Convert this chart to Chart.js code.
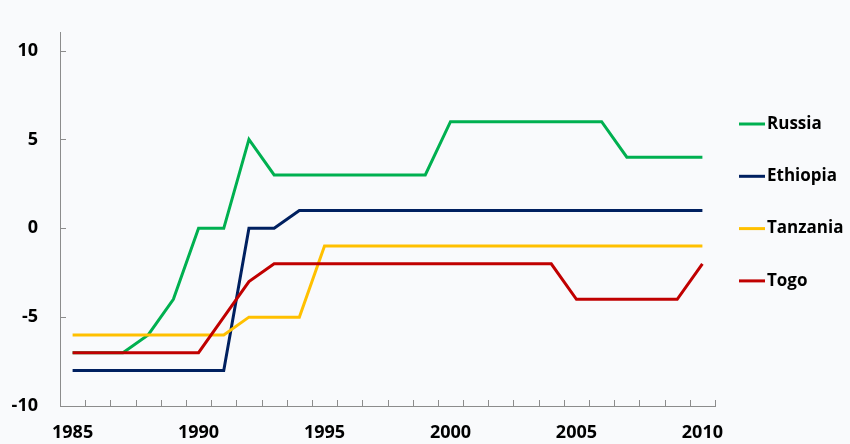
<!DOCTYPE html>
<html>
<head>
<meta charset="utf-8">
<script src="https://cdn.jsdelivr.net/npm/chart.js@4.4.1/dist/chart.umd.min.js"></script>
<style>
  html, body { margin: 0; padding: 0; background: #f9fafc; }
  #wrap { width: 850px; height: 444px; }
</style>
</head>
<body>
<div id="wrap"><canvas id="chart"></canvas></div>
<script>
// ---- Data ----
const years = [
  1985, 1986, 1987, 1988, 1989, 1990, 1991, 1992, 1993, 1994, 1995, 1996, 1997,
  1998, 1999, 2000, 2001, 2002, 2003, 2004, 2005, 2006, 2007, 2008, 2009, 2010,
];
const russia   = [-7, -7, -7, -6, -4, 0, 0, 5, 3, 3, 3, 3, 3, 3, 3, 6, 6, 6, 6, 6, 6, 6, 4, 4, 4, 4];
const ethiopia = [-8, -8, -8, -8, -8, -8, -8, 0, 0, 1, 1, 1, 1, 1, 1, 1, 1, 1, 1, 1, 1, 1, 1, 1, 1, 1];
const tanzania = [-6, -6, -6, -6, -6, -6, -6, -5, -5, -5, -1, -1, -1, -1, -1, -1, -1, -1, -1, -1, -1, -1, -1, -1, -1, -1];
const togo     = [-7, -7, -7, -7, -7, -7, -5, -3, -2, -2, -2, -2, -2, -2, -2, -2, -2, -2, -2, -2, -4, -4, -4, -4, -4, -2];
const seriesNames = ['Russia', 'Ethiopia', 'Tanzania', 'Togo'];
const yTicks = [-10, -5, 0, 5, 10];

// ---- Style ----
const COLORS = ['#00b050', '#002060', '#ffc000', '#c00000'];
const AXIS_COLOR = '#8c8c8c';
const FONT = { family: '"Open Sans", "Liberation Sans", sans-serif', size: 18, weight: 'bold' };

// Small tick marks pointing into the plot, like the source spreadsheet chart
const innerTicks = {
  id: 'innerTicks',
  beforeDatasetsDraw(chart) {
    const { ctx, chartArea: a, scales: { x, y } } = chart;
    const half = (x.getPixelForValue(1) - x.getPixelForValue(0)) / 2;
    ctx.save();
    ctx.strokeStyle = AXIS_COLOR;
    ctx.lineWidth = 1;
    ctx.beginPath();
    for (let i = 0; i < years.length; i++) {
      const px = Math.round(x.getPixelForValue(i) + half) + 0.5;
      ctx.moveTo(px, a.bottom);
      ctx.lineTo(px, a.bottom - 6);
    }
    yTicks.forEach(v => {
      const py = Math.round(y.getPixelForValue(v)) + 0.5;
      ctx.moveTo(a.left, py);
      ctx.lineTo(a.left + 6, py);
    });
    ctx.stroke();
    ctx.restore();
  },
};

// Legend on the right: short line sample + bold name
const sideLegend = {
  id: 'sideLegend',
  afterDraw(chart) {
    const { ctx, chartArea: a } = chart;
    const x0 = a.right + 24;
    ctx.save();
    ctx.font = `${FONT.weight} 17px ${FONT.family}`;
    ctx.textBaseline = 'middle';
    ctx.fillStyle = '#000';
    chart.data.datasets.forEach((ds, i) => {
      const yy = 124 + i * 52.3;
      ctx.strokeStyle = ds.borderColor;
      ctx.lineWidth = 3;
      ctx.beginPath();
      ctx.moveTo(x0, yy);
      ctx.lineTo(x0 + 26, yy);
      ctx.stroke();
      ctx.fillText(ds.label, x0 + 28, yy);
    });
    ctx.restore();
  },
};

const datasets = [russia, ethiopia, tanzania, togo].map((data, i) => ({
  label: seriesNames[i],
  data,
  borderColor: COLORS[i],
  backgroundColor: COLORS[i],
  borderWidth: 3,
  pointRadius: 0,
  tension: 0,
  order: 4 - i,
}));

new Chart(document.getElementById('chart'), {
  type: 'line',
  data: { labels: years, datasets },
  options: {
    responsive: true,
    maintainAspectRatio: false,
    animation: false,
    layout: { padding: { top: 30, right: 135, left: 0, bottom: 0 } },
    plugins: { legend: { display: false }, tooltip: { enabled: false } },
    scales: {
      x: {
        offset: true,
        grid: { display: false, drawTicks: false },
        border: { display: true, color: AXIS_COLOR, width: 1 },
        ticks: {
          autoSkip: false,
          maxRotation: 0,
          padding: 16,
          color: '#000',
          font: FONT,
          callback: (v, i) => (years[i] % 5 === 0 ? String(years[i]) : null),
        },
        afterFit: s => { s.height = 38; },
      },
      y: {
        min: -10,
        max: 11,
        grid: { display: false, drawTicks: false },
        border: { display: true, color: AXIS_COLOR, width: 1 },
        ticks: { padding: 22, color: '#000', font: FONT },
        afterBuildTicks: s => { s.ticks = yTicks.map(v => ({ value: v })); },
        afterFit: s => { s.width = 60; },
      },
    },
  },
  plugins: [innerTicks, sideLegend],
});
</script>
</body>
</html>
